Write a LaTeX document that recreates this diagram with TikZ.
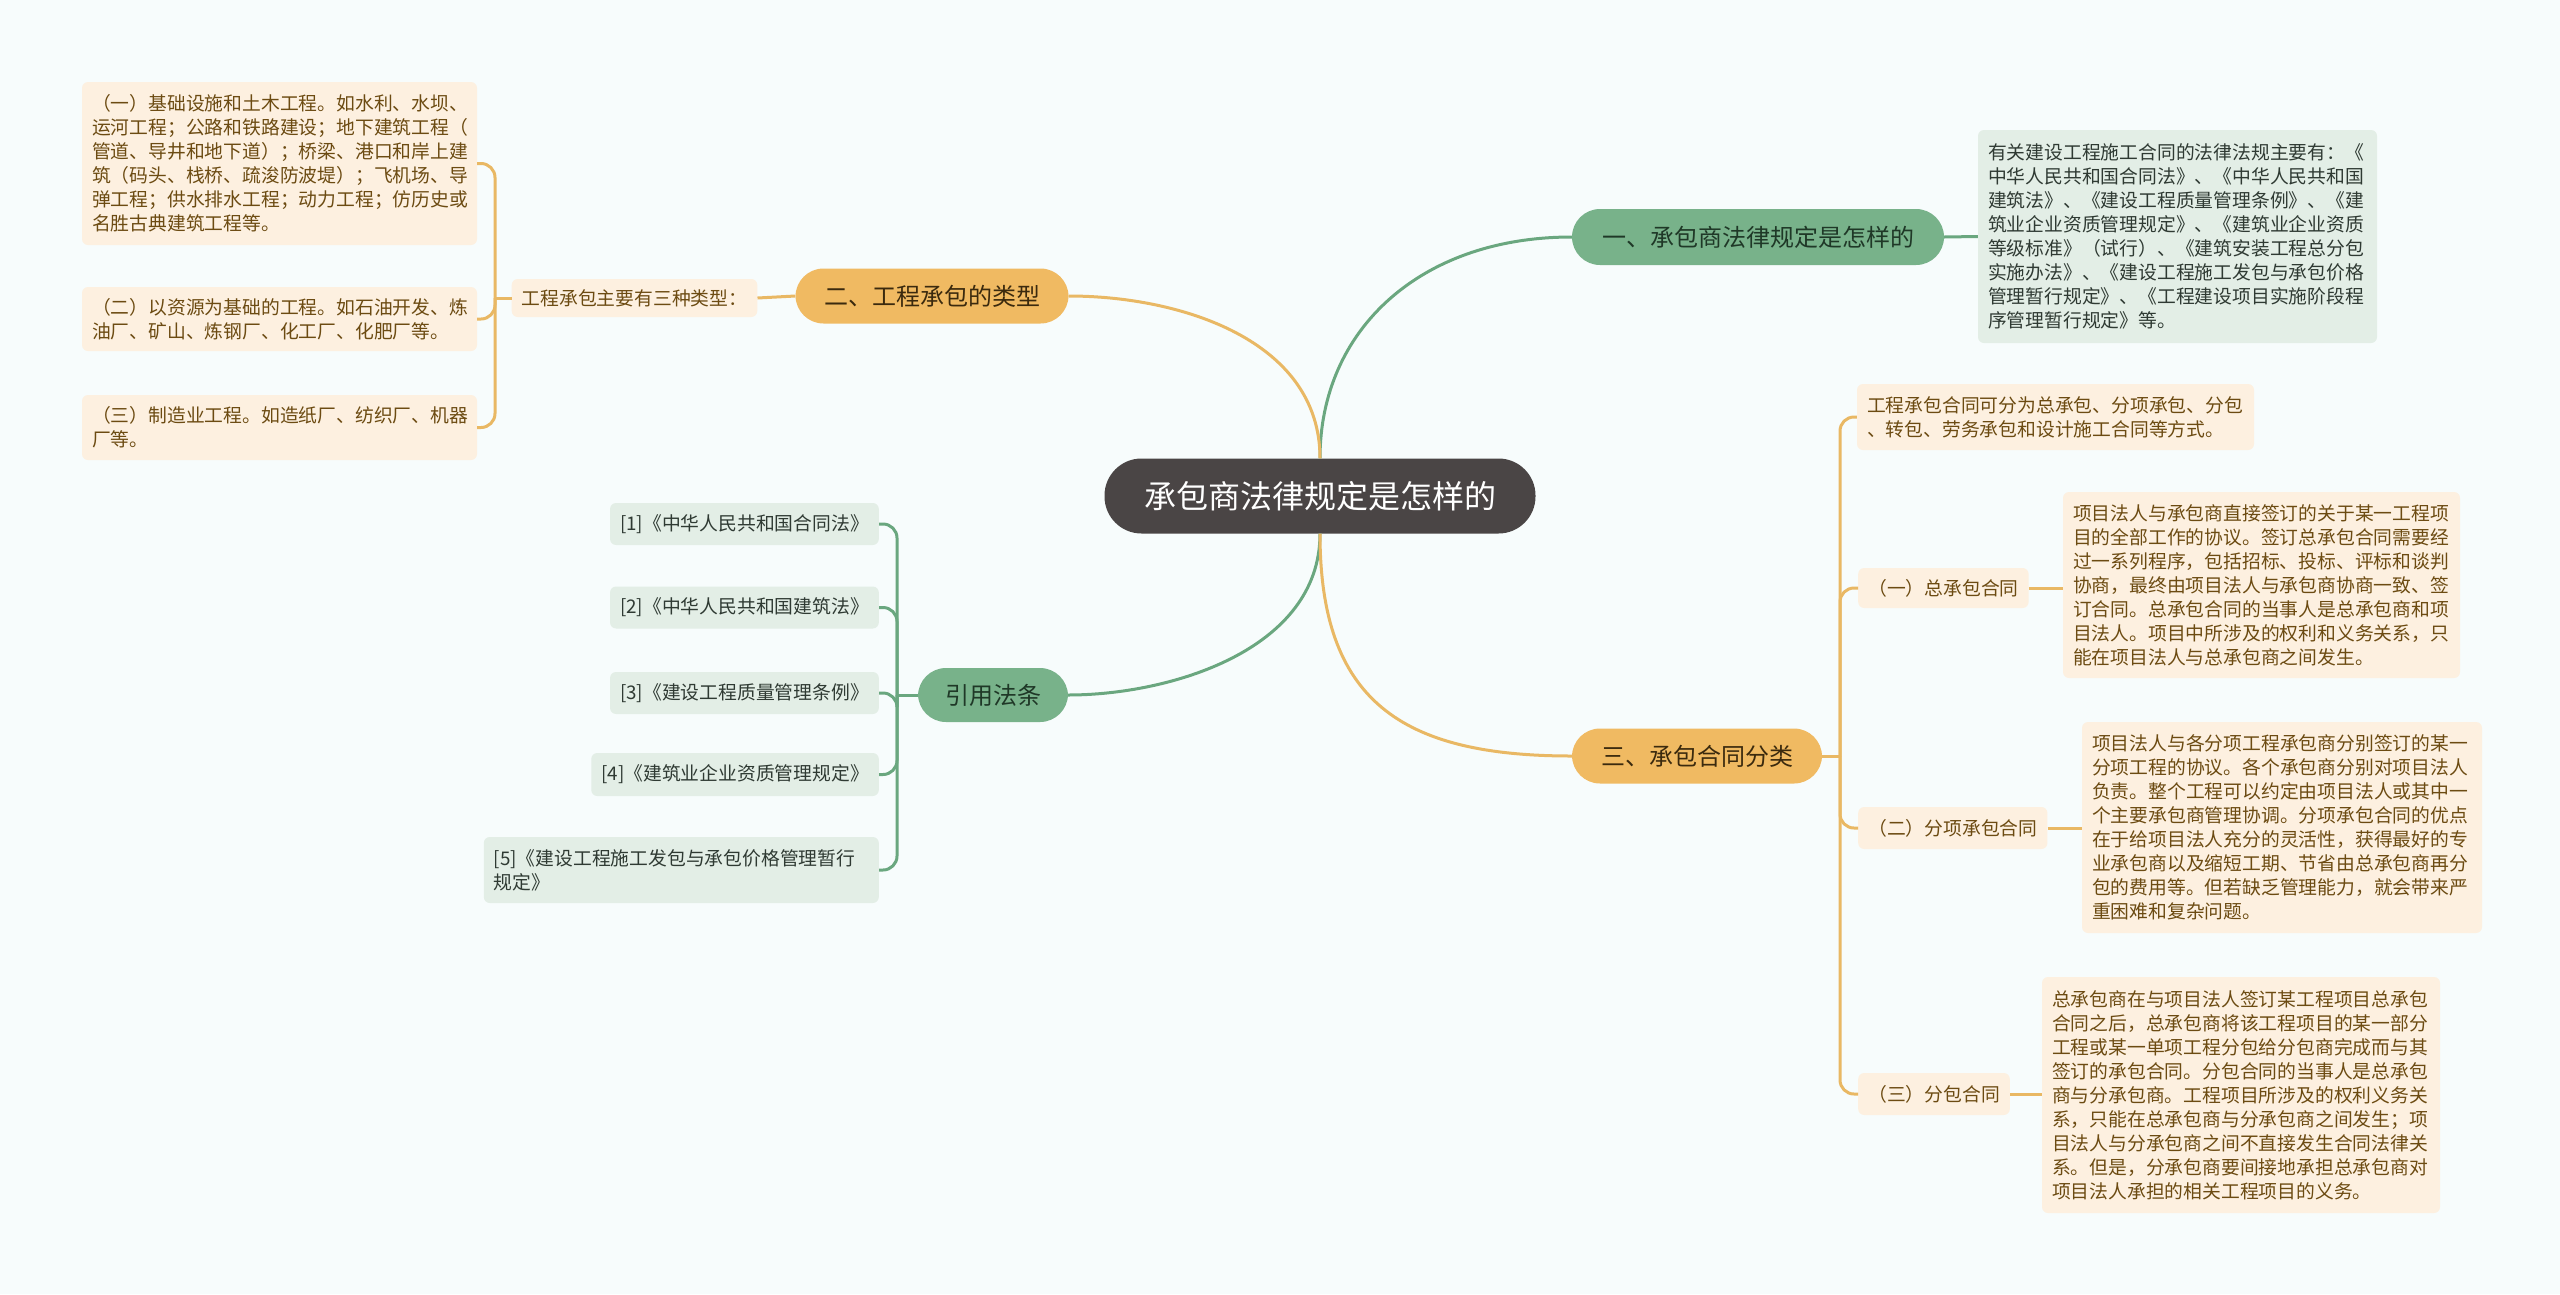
\documentclass[tikz,border=0pt]{standalone}
\usepackage{fontspec}
\newfontfamily\cjk{Noto Sans CJK SC}
\definecolor{bgtint}{HTML}{F7FCFC}
\definecolor{rootgray}{HTML}{4A4545}
\definecolor{topicgreen}{HTML}{78B28A}
\definecolor{topicorange}{HTML}{F0BA62}
\definecolor{inkgreen}{HTML}{1F3827}
\definecolor{inkorange}{HTML}{3B2A0E}
\definecolor{linegreen}{HTML}{6AA77F}
\definecolor{lineorange}{HTML}{E9B864}
\definecolor{peachfill}{HTML}{FDF0E0}
\definecolor{peachink}{HTML}{6C4B12}
\definecolor{mintfill}{HTML}{E3EEE6}
\definecolor{mintink}{HTML}{2F3A33}
\tikzset{
    rootnode/.style={rectangle, rounded corners=37pt, fill=rootgray, text=white, minimum width=431pt, minimum height=75pt, inner sep=0pt, font=\cjk\fontsize{32}{38}\selectfont},
    greentopic/.style={rectangle, rounded corners=28pt, fill=topicgreen, text=inkgreen, minimum height=56pt, inner sep=0pt, font=\cjk\fontsize{24}{30}\selectfont},
    orangetopic/.style={rectangle, rounded corners=28pt, fill=topicorange, text=inkorange, minimum height=55pt, inner sep=0pt, font=\cjk\fontsize{24}{30}\selectfont},
    peachleaf/.style={rectangle, rounded corners=6pt, fill=peachfill, text=peachink, inner xsep=10pt, inner ysep=0pt, minimum height=41pt, align=left, font=\cjk\fontsize{18.8}{24}\selectfont},
    mintleaf/.style={rectangle, rounded corners=6pt, fill=mintfill, text=mintink, inner xsep=10pt, inner ysep=0pt, minimum height=42pt, align=left, font=\cjk\fontsize{18.8}{24}\selectfont},
    greenline/.style={line width=3pt, draw=linegreen},
    orangeline/.style={line width=3pt, draw=lineorange},
    bracketgreen/.style={greenline, rounded corners=14pt},
    bracketorange/.style={orangeline, rounded corners=14pt}
}

\begin{document}
\begin{tikzpicture}[x=1pt, y=-1pt]
    \fill[bgtint] (0,0) rectangle (2560,1294);
    \useasboundingbox (0,0) rectangle (2560,1294);

    % Root and main topics
    \node[rootnode] (root) at (1320,496) {承包商法律规定是怎样的};
    \node[greentopic, minimum width=372pt] (law) at (1758,237) {一、承包商法律规定是怎样的};
    \node[orangetopic, minimum width=273pt] (kinds) at (932,296) {二、工程承包的类型};
    \node[orangetopic, minimum width=250pt] (sorts) at (1697,756) {三、承包合同分类};
    \node[greentopic, minimum width=150pt, minimum height=54pt] (refs) at (993,695) {引用法条};

    % Topic one
    \node[mintleaf, text width=379pt, minimum height=213pt] (lawtxt) at (2177.5,236.5) {有关建设工程施工合同的法律法规主要有：《\\
中华人民共和国合同法》、《中华人民共和国\\
建筑法》、《建设工程质量管理条例》、《建\\
筑业企业资质管理规定》、《建筑业企业资质\\
等级标准》（试行）、《建筑安装工程总分包\\
实施办法》、《建设工程施工发包与承包价格\\
管理暂行规定》、《工程建设项目实施阶段程\\
序管理暂行规定》等。};

    % Topic two
    \node[peachleaf, minimum height=38pt] (kindhead) at (634.5,298) {工程承包主要有三种类型：};
    \node[peachleaf, text width=375pt, minimum height=163pt] (kind1) at (279.5,163.5) {（一）基础设施和土木工程。如水利、水坝、\\
运河工程；公路和铁路建设；地下建筑工程（\\
管道、导井和地下道）；桥梁、港口和岸上建\\
筑（码头、栈桥、疏浚防波堤）；飞机场、导\\
弹工程；供水排水工程；动力工程；仿历史或\\
名胜古典建筑工程等。};
    \node[peachleaf, text width=375pt, minimum height=64pt] (kind2) at (279.5,319) {（二）以资源为基础的工程。如石油开发、炼\\
油厂、矿山、炼钢厂、化工厂、化肥厂等。};
    \node[peachleaf, text width=375pt, minimum height=65pt] (kind3) at (279.5,427.5) {（三）制造业工程。如造纸厂、纺织厂、机器\\
厂等。};

    % Topic three
    \node[peachleaf, text width=377pt, minimum height=66pt] (sorthead) at (2055.5,417) {工程承包合同可分为总承包、分项承包、分包\\
、转包、劳务承包和设计施工合同等方式。};
    \node[peachleaf, anchor=west, minimum height=40pt] (sort1) at (1858,588) {（一）总承包合同};
    \node[peachleaf, anchor=west, minimum height=42pt] (sort2) at (1858,828) {（二）分项承包合同};
    \node[peachleaf, anchor=west, minimum height=42pt] (sort3) at (1858,1094) {（三）分包合同};
    \node[peachleaf, text width=377pt, minimum height=186pt] (sort1txt) at (2261.5,585) {项目法人与承包商直接签订的关于某一工程项\\
目的全部工作的协议。签订总承包合同需要经\\
过一系列程序，包括招标、投标、评标和谈判\\
协商，最终由项目法人与承包商协商一致、签\\
订合同。总承包合同的当事人是总承包商和项\\
目法人。项目中所涉及的权利和义务关系，只\\
能在项目法人与总承包商之间发生。};
    \node[peachleaf, text width=380pt, minimum height=211pt] (sort2txt) at (2282,827.5) {项目法人与各分项工程承包商分别签订的某一\\
分项工程的协议。各个承包商分别对项目法人\\
负责。整个工程可以约定由项目法人或其中一\\
个主要承包商管理协调。分项承包合同的优点\\
在于给项目法人充分的灵活性，获得最好的专\\
业承包商以及缩短工期、节省由总承包商再分\\
包的费用等。但若缺乏管理能力，就会带来严\\
重困难和复杂问题。};
    \node[peachleaf, text width=378pt, minimum height=236pt] (sort3txt) at (2241,1095) {总承包商在与项目法人签订某工程项目总承包\\
合同之后，总承包商将该工程项目的某一部分\\
工程或某一单项工程分包给分包商完成而与其\\
签订的承包合同。分包合同的当事人是总承包\\
商与分承包商。工程项目所涉及的权利义务关\\
系，只能在总承包商与分承包商之间发生；项\\
目法人与分承包商之间不直接发生合同法律关\\
系。但是，分承包商要间接地承担总承包商对\\
项目法人承担的相关工程项目的义务。};

    % Cited laws
    \node[mintleaf, anchor=east] (ref1) at (879,524) {[1]《中华人民共和国合同法》};
    \node[mintleaf, anchor=east] (ref2) at (879,607.5) {[2]《中华人民共和国建筑法》};
    \node[mintleaf, anchor=east] (ref3) at (879,693) {[3]《建设工程质量管理条例》};
    \node[mintleaf, anchor=east, minimum height=43pt] (ref4) at (879,774.5) {[4]《建筑业企业资质管理规定》};
    \node[mintleaf, anchor=east, text width=375pt, minimum height=66pt] (ref5) at (879,870) {[5]《建设工程施工发包与承包价格管理暂行\\
规定》};

    % Root branches
    \draw[greenline] (root.north) .. controls (1320,330) and (1420,237) .. (law.west);
    \draw[orangeline] (root.north) .. controls (1320,340) and (1180,296) .. (kinds.east);
    \draw[greenline] (root.south) .. controls (1320,650) and (1170,695) .. (refs.east);
    \draw[orangeline] (root.south) .. controls (1320,700) and (1400,756) .. (sorts.west);

    % Leaf links
    \draw[greenline] (law.east) -- (lawtxt.west);
    \draw[orangeline] (kinds.west) -- (kindhead.east);
    \coordinate (kindjoint) at (495,298);
    \draw[orangeline] (kindhead.west) -- (kindjoint);
    \draw[bracketorange] (kindjoint) |- (kind1.east);
    \draw[bracketorange] (kindjoint) |- (kind2.east);
    \draw[bracketorange] (kindjoint) |- (kind3.east);

    \coordinate (sortjoint) at (1840,756);
    \draw[orangeline] (sorts.east) -- (sortjoint);
    \draw[bracketorange] (sortjoint) |- (sorthead.west);
    \draw[bracketorange] (sortjoint) |- (sort1.west);
    \draw[bracketorange] (sortjoint) |- (sort2.west);
    \draw[bracketorange] (sortjoint) |- (sort3.west);
    \draw[orangeline] (sort1.east) -- (sort1txt.west |- sort1.east);
    \draw[orangeline] (sort2.east) -- (sort2txt.west |- sort2.east);
    \draw[orangeline] (sort3.east) -- (sort3txt.west |- sort3.east);

    \coordinate (refjoint) at (897,695);
    \draw[greenline] (refs.west) -- (refjoint);
    \draw[bracketgreen] (refjoint) |- (ref1.east);
    \draw[bracketgreen] (refjoint) |- (ref2.east);
    \draw[bracketgreen] (refjoint) |- (ref3.east);
    \draw[bracketgreen] (refjoint) |- (ref4.east);
    \draw[bracketgreen] (refjoint) |- (ref5.east);
\end{tikzpicture}
\end{document}
